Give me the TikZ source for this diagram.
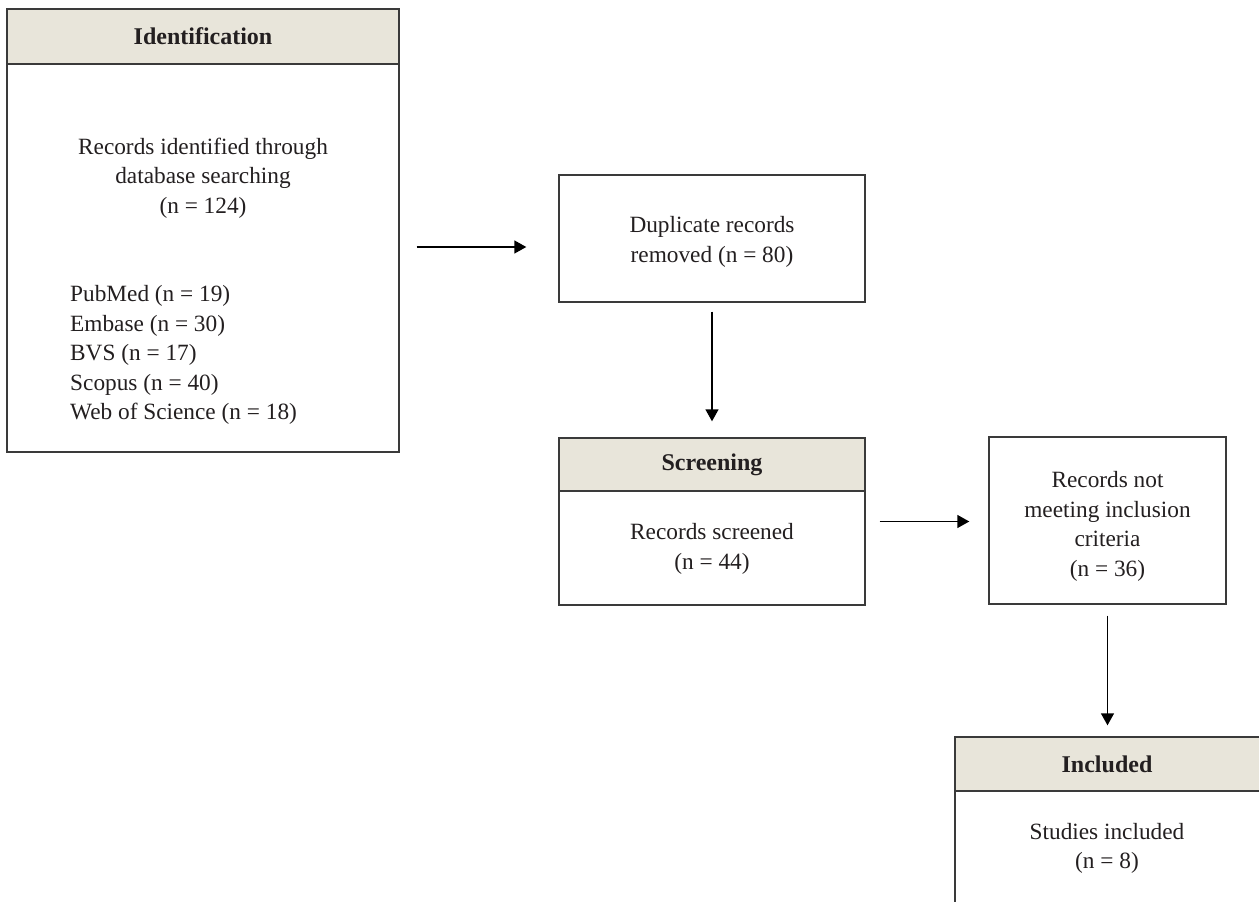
\documentclass[tikz,border=0pt]{standalone}
\usepackage{fontspec}
\setmainfont{Liberation Serif}
\usetikzlibrary{arrows.meta}
\definecolor{hdrfill}{HTML}{E8E5DA}
\definecolor{txt}{HTML}{231F20}
\definecolor{ln}{HTML}{3A3A3A}
\tikzset{
  box/.style={draw=ln, line width=1.4pt, rectangle, inner sep=0pt, fill=white},
  hdr/.style={draw=ln, line width=1.4pt, rectangle, inner sep=0pt, fill=hdrfill,
    font=\bfseries\fontsize{24}{29.5}\selectfont, text=txt},
  body/.style={align=center, inner sep=0pt, font=\fontsize{23.3}{29.5}\selectfont, text=txt},
  arr/.style={draw=black, line width=1.4pt, -{Triangle[length=12pt,width=13pt]}}
}
\begin{document}
\begin{tikzpicture}[x=1pt,y=-1pt]
\useasboundingbox (0,0) rectangle (1259,902);
\clip (0,0) rectangle (1259,902);

% Identification
\node[box, minimum width=392pt, minimum height=443pt] (idbox) at (203,230.5) {};
\node[hdr, minimum width=392pt, minimum height=55pt] (idhead) at (203,36.5) {Identification};
\node[body] (idtext) at (203,178) {Records identified through\\database searching\\(n = 124)};
\node[body, align=left, anchor=west] (idlist) at (70,355) {PubMed (n = 19)\\Embase (n = 30)\\BVS (n = 17)\\Scopus (n = 40)\\Web of Science (n = 18)};

% Duplicate
\node[box, minimum width=306pt, minimum height=127pt] (dup) at (712,238.5) {};
\node[body] (duptext) at (712,242) {Duplicate records\\removed (n = 80)};

% Screening
\node[box, minimum width=306pt, minimum height=167pt] (scr) at (712,521.5) {};
\node[hdr, minimum width=306pt, minimum height=53pt] (scrhead) at (712,464.5) {Screening};
\node[body] (scrtext) at (712,549) {Records screened\\(n = 44)};

% Records not meeting
\node[box, minimum width=237pt, minimum height=167pt] (notm) at (1107.5,520.5) {};
\node[body] (notmtext) at (1107.5,526.5) {Records not\\meeting inclusion\\criteria\\(n = 36)};

% Included
\node[box, minimum width=312pt, minimum height=260pt] (incl) at (1111,867) {};
\node[hdr, minimum width=312pt, minimum height=54pt, text width=304pt, align=center] (inclhead) at (1111,764) {\hspace*{-8pt}Included};
\node[body] (incltext) at (1107,848.5) {Studies included\\(n = 8)};

% Connectors
\draw[arr, shorten <=17pt, shorten >=32pt] ([yshift=-8.5pt]dup.west -| idbox.east) -- ([yshift=-8.5pt]dup.west);
\draw[arr, shorten <=9pt, shorten >=16pt] (dup.south) -- (dup.south |- scrhead.north);
\draw[arr, shorten <=14pt, shorten >=19pt] (scr.east) -- (scr.east -| notm.west);
\draw[arr, shorten <=11pt, shorten >=11pt] (notm.south) -- (notm.south |- inclhead.north);
\end{tikzpicture}
\end{document}
